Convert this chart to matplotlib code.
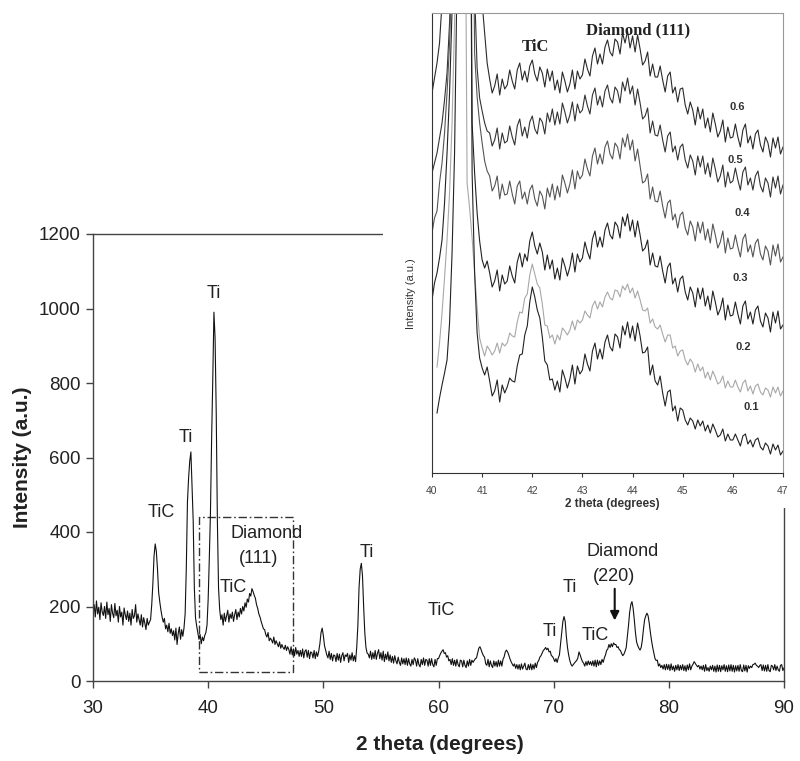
import numpy as np
import matplotlib
matplotlib.use("Agg")
import matplotlib.pyplot as plt
from matplotlib.patches import Rectangle

plt.rcParams['font.family'] = ['Liberation Sans', 'DejaVu Sans']

nan = np.nan

# ---------------- main pattern: 2theta 30..90, step 0.1 ----------------
main_x = np.round(np.arange(300, 901) / 10.0, 1)
main_y = [
190, 205, 172, 215, 180, 198, 165, 210, 185, 176,
200, 168, 212, 178, 195, 160, 205, 182, 170, 208,
175, 190, 158, 200, 172, 185, 150, 196, 178, 165,
188, 160, 182, 150, 192, 168, 175, 205, 158, 180,
165, 150, 178, 145, 170, 155, 138, 168, 150, 158,
165, 205, 262, 335, 368, 348, 300, 238, 212, 190,
172, 158, 168, 140, 150, 132, 155, 128, 140, 122,
135, 110, 142, 98, 128, 145, 112, 138, 120, 142,
180, 300, 480, 545, 590, 615, 520, 430, 250, 170,
148, 130, 112, 125, 100, 118, 108, 122, 130, 150,
220, 330, 455, 650, 810, 990, 920, 720, 430, 250,
192, 165, 178, 150, 182, 160, 175, 190, 158, 180,
168, 185, 160, 178, 192, 165, 185, 172, 195, 180,
200, 188, 210, 198, 220, 212, 235, 228, 248, 240,
230, 222, 205, 195, 180, 172, 160, 150, 140, 138,
125, 118, 130, 108, 115, 110, 102, 118, 98, 108,
100, 92, 105, 88, 98, 90, 85, 96, 82, 92,
85, 72, 92, 70, 86, 68, 90, 72, 82, 66,
82, 66, 86, 62, 80, 84, 64, 82, 60, 78,
76, 62, 82, 60, 78, 66, 80, 100, 130, 142,
122, 95, 82, 70, 62, 80, 58, 74, 54, 70,
68, 52, 74, 56, 72, 50, 68, 76, 54, 70,
66, 74, 50, 70, 56, 76, 54, 68, 52, 90,
150, 250, 300, 316, 282, 200, 130, 90, 75, 72,
62, 80, 58, 76, 60, 82, 58, 74, 84, 60,
76, 56, 80, 52, 72, 58, 78, 54, 70, 50,
66, 48, 68, 54, 46, 64, 50, 42, 62, 46,
60, 44, 62, 42, 60, 46, 40, 58, 44, 62,
56, 40, 60, 44, 38, 58, 44, 62, 42, 58,
56, 40, 60, 42, 60, 44, 38, 58, 42, 60,
60, 68, 75, 80, 84, 74, 76, 64, 68, 54,
58, 44, 60, 42, 56, 40, 58, 44, 38, 56,
54, 38, 56, 42, 36, 54, 40, 58, 42, 56,
50, 55, 60, 62, 75, 88, 92, 84, 75, 68,
64, 46, 42, 58, 38, 54, 42, 36, 54, 40,
52, 38, 56, 40, 54, 40, 58, 65, 78, 83,
78, 70, 60, 52, 46, 40, 46, 34, 44, 32,
44, 30, 46, 32, 40, 48, 32, 30, 44, 31,
46, 30, 44, 32, 48, 36, 50, 55, 64, 68,
75, 82, 85, 90, 84, 88, 78, 80, 68, 66,
60, 52, 60, 50, 62, 70, 100, 130, 160, 173,
160, 120, 90, 70, 55, 45, 40, 44, 48, 52,
55, 62, 78, 70, 60, 52, 48, 40, 52, 42,
54, 44, 52, 42, 54, 40, 56, 38, 56, 42,
54, 44, 58, 50, 62, 70, 82, 86, 98, 90,
100, 92, 102, 98, 98, 90, 92, 84, 82, 74,
68, 72, 80, 90, 120, 150, 185, 205, 213, 195,
165, 130, 105, 95, 88, 83, 90, 110, 140, 165,
175, 182, 175, 155, 130, 108, 90, 75, 60, 55,
56, 40, 46, 36, 42, 32, 44, 30, 45, 31,
44, 28, 46, 30, 40, 26, 42, 30, 44, 28,
42, 30, 44, 28, 41, 26, 43, 30, 46, 30,
40, 45, 52, 47, 42, 38, 42, 32, 40, 30,
42, 26, 44, 28, 36, 26, 40, 30, 42, 26,
40, 24, 43, 26, 42, 25, 41, 30, 44, 26,
41, 25, 43, 27, 44, 26, 42, 24, 41, 27,
42, 26, 44, 28, 25, 43, 27, 42, 24, 41,
34, 40, 36, 44, 45, 48, 42, 40, 36, 42,
44, 28, 43, 27, 42, 26, 44, 28, 25, 42,
40, 30, 44, 28, 40, 30, 26, 42, 44, 28,
35]

main_xticks = [30, 40, 50, 60, 70, 80, 90]
main_yticks = [0, 200, 400, 600, 800, 1000, 1200]

# peak annotations: (text, x, y)
main_labels = [
    ("Ti", 40.46, 1041), ("Ti", 38.1, 655), ("TiC", 35.9, 453),
    ("Diamond", 45.1, 397), ("(111)", 44.4, 330), ("TiC", 42.2, 250),
    ("Ti", 53.8, 346), ("TiC", 60.2, 190), ("Ti", 69.7, 132),
    ("Ti", 71.4, 250), ("TiC", 73.6, 123), ("Diamond", 76.0, 347),
    ("(220)", 75.2, 280),
]

# ---------------- inset: 2theta 40..47, step 0.05 (arbitrary offsets) ----------------
inset_x = np.round(np.arange(800, 941) / 20.0, 2)
s06 = [
380, 395, 410, 430, 470, 520, 600, 700, 800, 900,
1000, 1000, 1000, 1000, 1000, 1000, 1000, 900, 700, 520,
470, 440, 410, 394, 380, 387, 399, 378, 394, 384,
388, 403, 392, 384, 403, 410, 393, 402, 391, 407,
413, 399, 392, 406, 400, 386, 404, 392, 402, 383,
393, 380, 401, 392, 381, 389, 403, 384, 402, 394,
398, 414, 404, 397, 417, 425, 409, 419, 409, 426,
433, 421, 417, 434, 431, 419, 440, 430, 442, 425,
437, 421, 438, 424, 408, 412, 421, 397, 409, 396,
396, 407, 393, 381, 397, 401, 380, 386, 371, 384,
385, 368, 359, 371, 363, 348, 366, 354, 364, 345,
355, 341, 360, 349, 336, 342, 353, 331, 346, 335,
336, 349, 336, 326, 343, 349, 330, 337, 324, 339,
343, 328, 321, 336, 330, 316, 335, 325, 336, 319,
326]
s05 = [
300, 310, 320, 335, 350, 373, 400, 450, 520, 650,
800, 1000, 1000, 1000, 1000, 1000, 900, 480, 405, 375,
362, 350, 342, 340, 327, 333, 345, 324, 340, 330,
332, 347, 336, 328, 347, 354, 337, 346, 335, 351,
357, 344, 339, 355, 351, 339, 360, 351, 364, 348,
361, 349, 370, 361, 350, 358, 371, 352, 369, 360,
363, 378, 367, 359, 378, 385, 368, 377, 366, 382,
388, 375, 370, 386, 382, 370, 391, 382, 395, 379,
387, 368, 384, 370, 354, 357, 365, 340, 352, 338,
337, 348, 333, 321, 337, 341, 321, 327, 313, 326,
329, 313, 305, 318, 312, 298, 317, 306, 317, 299,
310, 296, 315, 304, 291, 297, 308, 286, 301, 290,
292, 305, 293, 283, 301, 306, 288, 295, 283, 297,
302, 287, 281, 295, 290, 276, 296, 285, 297, 279,
288]
s04 = [
240, 255, 262, 290, 310, 340, 380, 430, 500, 620,
800, 1000, 1000, 1000, 1000, 1000, 700, 420, 376, 350,
330, 312, 302, 297, 282, 287, 297, 274, 289, 278,
279, 292, 279, 269, 287, 292, 274, 281, 269, 283,
288, 274, 267, 282, 277, 264, 285, 276, 289, 273,
287, 276, 298, 290, 280, 289, 303, 284, 302, 294,
298, 314, 304, 297, 317, 325, 309, 319, 309, 326,
332, 319, 314, 330, 326, 314, 335, 326, 339, 323,
333, 312, 324, 307, 290, 292, 299, 274, 286, 272,
271, 282, 267, 255, 270, 273, 253, 259, 245, 258,
261, 245, 238, 252, 246, 232, 251, 240, 251, 233,
244, 230, 249, 238, 225, 231, 242, 220, 235, 224,
225, 238, 226, 216, 234, 239, 221, 228, 216, 230,
234, 219, 213, 227, 222, 208, 228, 217, 229, 211,
216]
s03 = [
173, 190, 200, 215, 233, 270, 320, 380, 460, 560,
700, 1000, 1000, 1000, 1000, 800, 350, 300, 260, 232,
213, 205, 212, 200, 186, 192, 203, 182, 198, 189,
192, 207, 197, 190, 211, 220, 206, 219, 212, 232,
241, 227, 219, 230, 221, 203, 218, 204, 213, 194,
205, 193, 215, 207, 197, 206, 220, 201, 219, 211,
215, 231, 221, 214, 234, 242, 226, 236, 226, 243,
250, 238, 234, 251, 247, 235, 256, 247, 259, 242,
253, 236, 252, 238, 222, 225, 233, 208, 220, 207,
206, 217, 202, 190, 206, 210, 189, 195, 181, 194,
197, 181, 173, 186, 180, 166, 185, 174, 185, 167,
177, 163, 182, 171, 158, 164, 175, 153, 168, 157,
158, 171, 159, 149, 167, 172, 154, 161, 149, 163,
167, 152, 146, 160, 155, 141, 161, 150, 162, 144,
148]
s02 = [
nan, nan, 106, 130, 160, 195, 233, 280, 350, 450,
600, 800, 900, 700, 290, 265, 235, 200, 165, 135,
125, 117, 127, 123, 118, 122, 130, 120, 130, 127,
130, 140, 137, 136, 151, 161, 160, 175, 179, 198,
209, 199, 189, 185, 169, 148, 147, 135, 138, 129,
138, 133, 145, 142, 138, 143, 152, 143, 153, 150,
153, 162, 158, 155, 167, 172, 164, 171, 166, 176,
181, 175, 173, 183, 182, 176, 187, 183, 189, 180,
185, 175, 182, 173, 163, 162, 165, 150, 154, 146,
144, 148, 139, 131, 138, 138, 125, 127, 117, 122,
123, 113, 108, 114, 110, 101, 109, 102, 106, 95,
101, 93, 102, 96, 89, 91, 97, 85, 92, 86,
86, 93, 86, 81, 90, 93, 82, 87, 79, 87,
89, 81, 78, 85, 83, 76, 86, 80, 86, 77,
82]
s01 = [
nan, nan, 60, 75, 88, 100, 113, 150, 220, 320,
500, 800, 1000, 1000, 1000, 800, 300, 200, 140, 115,
105, 98, 106, 92, 77, 82, 93, 71, 88, 80,
86, 95, 92, 91, 107, 118, 119, 138, 147, 171,
186, 176, 163, 155, 136, 112, 108, 93, 94, 83,
92, 81, 103, 95, 85, 94, 108, 89, 107, 99,
103, 119, 109, 102, 122, 130, 114, 124, 114, 131,
138, 126, 122, 139, 136, 125, 147, 138, 151, 135,
147, 132, 150, 137, 120, 121, 126, 98, 108, 92,
88, 97, 80, 67, 81, 83, 62, 67, 52, 65,
63, 53, 48, 55, 52, 44, 53, 47, 52, 42,
48, 40, 49, 43, 36, 38, 44, 32, 39, 33,
33, 39, 33, 27, 37, 39, 29, 33, 26, 33,
35, 26, 23, 30, 27, 19, 29, 23, 28, 18,
22]

inset_series = [s06, s05, s04, s03, s02, s01]
inset_names = ["0.6", "0.5", "0.4", "0.3", "0.2", "0.1"]
inset_colors = ["#2a2a2a", "#333333", "#555555", "#222222", "#a8a8a8", "#222222"]
inset_name_pos = [(46.08, 366), (46.05, 313), (46.18, 260), (46.15, 195), (46.2, 126), (46.37, 66)]
inset_xticks = [40, 41, 42, 43, 44, 45, 46, 47]

# ---------------- figure ----------------
fig = plt.figure(figsize=(8.0, 7.61), dpi=100)
ax = fig.add_axes([93/800, 1 - 681/761, (784 - 93)/800, (681 - 234)/761])
ax.plot(main_x, main_y, color="#111111", lw=0.8)
ax.set_xlim(30, 90)
ax.set_ylim(0, 1200)
ax.set_xticks(main_xticks)
ax.set_yticks(main_yticks)
for s in ax.spines.values():
    s.set_color("#444444")
    s.set_linewidth(1.0)
ax.tick_params(direction="out", length=5, width=1, color="#444444",
               labelsize=13.5, labelcolor="#222222")
ax.tick_params(axis="x", pad=9)
ax.tick_params(axis="y", pad=4)
ax.set_xlabel("2 theta (degrees)", fontsize=15, fontweight="bold", color="#222222")
ax.set_ylabel("Intensity (a.u.)", fontsize=15, fontweight="bold", color="#222222")
ax.xaxis.set_label_coords(0.502, -0.12)
ax.yaxis.set_label_coords(-0.088, 0.5)

for txt, tx, ty in main_labels:
    ax.text(tx, ty, txt, fontsize=13, ha="center", va="center", color="#222222")

ax.add_patch(Rectangle((39.2, 24), 8.15, 416, fill=False, lw=1.0,
                       ec="#333333", linestyle=(0, (6, 2, 1.2, 2))))
ax.annotate("", xy=(75.3, 155), xytext=(75.3, 255),
            arrowprops=dict(arrowstyle="-|>", color="#111111", lw=1.5,
                            mutation_scale=13))

# white box behind the inset
fig.add_artist(Rectangle((383/800, 1 - 508/761), 1 - 383/800, 508/761,
                         transform=fig.transFigure, fc="white", ec="none", zorder=1))

ins = fig.add_axes([432/800, 1 - 473/761, (783 - 432)/800, (473 - 13)/761], zorder=2)
for ys, col in zip(inset_series, inset_colors):
    ins.plot(inset_x, ys, color=col, lw=0.8)
ins.set_xlim(40, 47)
ins.set_ylim(0, 460)
ins.set_xticks(inset_xticks)
ins.set_yticks([])
ins.spines["left"].set_color("#333333")
ins.spines["bottom"].set_color("#333333")
ins.spines["top"].set_color("#999999")
ins.spines["right"].set_color("#999999")
ins.tick_params(direction="out", length=3, color="#333333", labelsize=7.5,
                labelcolor="#444444", pad=6)
ins.set_xlabel("2 theta (degrees)", fontsize=8.5, fontweight="bold", color="#333333")
ins.set_ylabel("Intensity (a.u.)", fontsize=8, color="#333333")
ins.xaxis.set_label_coords(0.513, -0.055)
ins.yaxis.set_label_coords(-0.047, 0.39)

ins.text(42.07, 426, "TiC", fontsize=12, fontweight="bold", ha="center", va="center",
         family=["Liberation Serif", "DejaVu Serif"], color="#222222")
ins.text(44.11, 443, "Diamond (111)", fontsize=12, fontweight="bold", ha="center",
         va="center", family=["Liberation Serif", "DejaVu Serif"], color="#222222")
for name, (nx, ny) in zip(inset_names, inset_name_pos):
    ins.text(nx, ny, name, fontsize=8, fontweight="bold", ha="center", va="center",
             color="#333333")

fig.savefig("out.png", dpi=100)
